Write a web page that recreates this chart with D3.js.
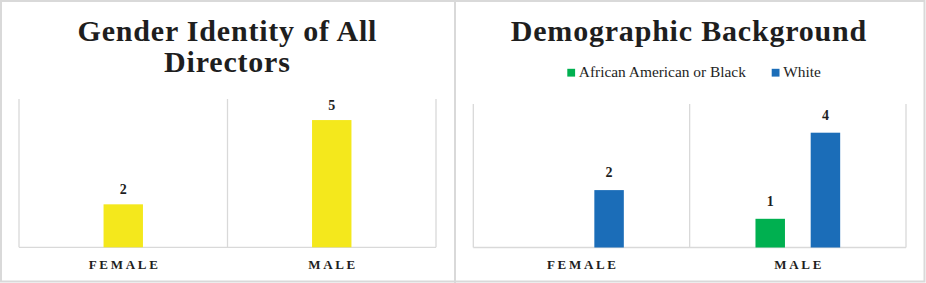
<!DOCTYPE html>
<html>
<head>
<meta charset="utf-8">
<script src="https://cdn.jsdelivr.net/npm/d3@7"></script>
<style>
  html, body { margin: 0; padding: 0; background: #fff; }
  svg { display: block; }
</style>
</head>
<body>
<svg id="chart" width="926" height="283"></svg>
<script>
// ---- Data ----
const genderCategories = ["FEMALE", "MALE"];
const genderValues = [2, 5];

const demoCategories = ["FEMALE", "MALE"];
const demoSeries = ["African American or Black", "White"];
const demoAfricanAmerican = [0, 1];
const demoWhite = [2, 4];

const leftTitleLines = ["Gender Identity of All", "Directors"];
const rightTitle = "Demographic Background";

// ---- Styles ----
const serif = "'Liberation Serif', 'Times New Roman', serif";
const gridColor = "#d9d9d9";
const textColor = "#1e1e1e";
const yellow = "#F4E81C";
const seriesColors = ["#00B050", "#1B6DB8"];

const svg = d3.select("#chart");
svg.append("rect").attr("x", 0).attr("y", 0).attr("width", 926).attr("height", 283).attr("fill", "#fff");

// outer frame and divider
svg.append("rect").attr("x", 1).attr("y", 1).attr("width", 923.5).attr("height", 280.5)
  .attr("fill", "none").attr("stroke", gridColor).attr("stroke-width", 2);
svg.append("line").attr("x1", 455).attr("x2", 455).attr("y1", 0).attr("y2", 283)
  .attr("stroke", gridColor).attr("stroke-width", 2);

function drawFrame(g, x0, y) {
  const [yb, yt] = y.range();
  const [xl, xr] = x0.range();
  const bounds = x0.domain().map(c => x0(c)).concat([xr]);
  g.selectAll(".vgrid").data(bounds).join("line")
    .attr("x1", d => d).attr("x2", d => d).attr("y1", yt).attr("y2", yb)
    .attr("stroke", gridColor).attr("stroke-width", 1.3);
  g.append("line").attr("x1", xl).attr("x2", xr).attr("y1", yb).attr("y2", yb)
    .attr("stroke", gridColor).attr("stroke-width", 1.3);
}

function drawCategoryLabels(g, x0, cats) {
  const ls = 2.7;
  g.selectAll(".cat").data(cats).join("text")
    .attr("x", d => x0(d) + x0.bandwidth() / 2 + ls / 2)
    .attr("y", 268.7)
    .attr("text-anchor", "middle")
    .attr("font-family", serif).attr("font-weight", "bold").attr("font-size", 13)
    .attr("letter-spacing", ls)
    .attr("fill", textColor)
    .text(d => d);
}

// ---- Left chart ----
{
  const g = svg.append("g");
  const x0 = d3.scaleBand().domain(genderCategories).range([19, 436]);
  const y = d3.scaleLinear().domain([0.47, 5.75]).range([247.3, 99]);
  drawFrame(g, x0, y);
  const barW = x0.bandwidth() * 0.189;
  const data = genderCategories.map((c, i) => ({ c, v: genderValues[i] }));
  g.selectAll(".bar").data(data).join("rect")
    .attr("x", d => x0(d.c) + (x0.bandwidth() - barW) / 2)
    .attr("width", barW)
    .attr("y", d => y(d.v))
    .attr("height", d => y.range()[0] - y(d.v))
    .attr("fill", yellow);
  g.selectAll(".val").data(data).join("text")
    .attr("x", d => x0(d.c) + x0.bandwidth() / 2)
    .attr("y", d => y(d.v) - 10)
    .attr("text-anchor", "middle")
    .attr("font-family", serif).attr("font-weight", "bold").attr("font-size", 14)
    .attr("fill", textColor)
    .text(d => d.v);
  drawCategoryLabels(g, x0, genderCategories);
  g.selectAll(".title").data(leftTitleLines).join("text")
    .attr("x", 227 + 0.4)
    .attr("y", (d, i) => 40.7 + i * 31)
    .attr("text-anchor", "middle")
    .attr("font-family", serif).attr("font-weight", "bold").attr("font-size", 30)
    .attr("letter-spacing", 0.8)
    .attr("fill", textColor)
    .text(d => d);
}

// ---- Right chart ----
{
  const g = svg.append("g");
  const x0 = d3.scaleBand().domain(demoCategories).range([473.3, 906]);
  const bw = x0.bandwidth();
  const x1 = d3.scaleBand().domain(demoSeries)
    .range([bw / 2 - 42.35, bw / 2 + 42.35]).paddingInner(0.466).paddingOuter(0);
  const y = d3.scaleLinear().domain([0, 5]).range([247.5, 104]);
  drawFrame(g, x0, y);
  const seriesValues = [demoAfricanAmerican, demoWhite];
  const data = [];
  demoCategories.forEach((c, ci) => {
    demoSeries.forEach((s, si) => {
      const v = seriesValues[si][ci];
      if (v > 0) data.push({ c, s, si, v });
    });
  });
  g.selectAll(".bar").data(data).join("rect")
    .attr("x", d => x0(d.c) + x1(d.s))
    .attr("width", x1.bandwidth())
    .attr("y", d => y(d.v))
    .attr("height", d => y.range()[0] - y(d.v))
    .attr("fill", d => seriesColors[d.si]);
  g.selectAll(".val").data(data).join("text")
    .attr("x", d => x0(d.c) + x1(d.s) + x1.bandwidth() / 2)
    .attr("y", d => y(d.v) - 13)
    .attr("text-anchor", "middle")
    .attr("font-family", serif).attr("font-weight", "bold").attr("font-size", 14)
    .attr("fill", textColor)
    .text(d => d.v);
  drawCategoryLabels(g, x0, demoCategories);
  g.append("text")
    .attr("x", 688.5 + 0.4).attr("y", 40.7)
    .attr("text-anchor", "middle")
    .attr("font-family", serif).attr("font-weight", "bold").attr("font-size", 30)
    .attr("letter-spacing", 0.8)
    .attr("fill", textColor)
    .text(rightTitle);

  // legend
  const legendX = [567.3, 771.7];
  const lg = g.selectAll(".leg").data(demoSeries).join("g")
    .attr("transform", (d, i) => `translate(${legendX[i]},0)`);
  lg.append("rect").attr("x", 0).attr("y", 68.8).attr("width", 7.8).attr("height", 7.8)
    .attr("fill", (d, i) => seriesColors[i]);
  lg.append("text").attr("x", 11.5).attr("y", 76.6)
    .attr("font-family", serif).attr("font-size", 15.4)
    .attr("fill", textColor)
    .text(d => d);
}
</script>
</body>
</html>
